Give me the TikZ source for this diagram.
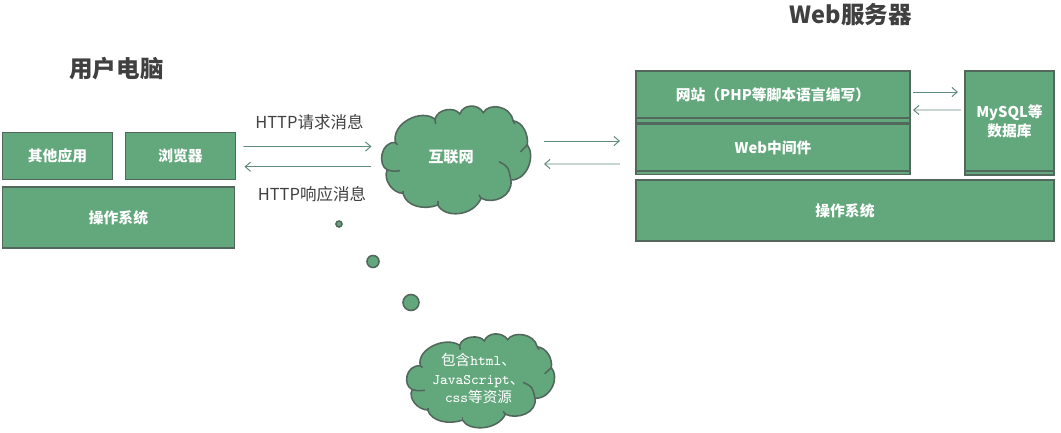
\documentclass[tikz,border=0pt]{standalone}
\usepackage{fontspec}
\usepackage{xcolor}
\usepackage{tikz}
\usetikzlibrary{arrows.meta}
\setmainfont{Noto Sans CJK SC}
\definecolor{boxgreen}{RGB}{99,168,125}
\definecolor{boxline}{RGB}{82,104,92}
\definecolor{arrowline}{RGB}{96,138,122}
\definecolor{titlegray}{RGB}{64,64,64}
\tikzset{
  box/.style={draw=boxline, fill=boxgreen, line width=0.45pt, inner sep=0pt, outer sep=0pt, text=white, font=\fontsize{4.2}{5.4}\selectfont\bfseries, align=center},
  cloudarea/.style={inner sep=0pt, outer sep=0pt},
  cloudtext/.style={text=white, align=center, inner sep=0pt},
  cloudline/.style={draw=boxline, line width=0.45pt},
  bubble/.style={draw=boxline, fill=boxgreen, line width=0.45pt, circle, inner sep=0pt, outer sep=0pt},
  flow/.style={-{Straight Barb[length=1.5pt,width=2.6pt]}, draw=arrowline, line width=0.28pt},
  title/.style={text=titlegray, font=\fontsize{6.7}{8}\selectfont\bfseries},
  caption/.style={text=titlegray, font=\fontsize{4.7}{6}\selectfont}
}
% Cloud outline in a box from -1 to 1: centre, half width, half height
\newcommand{\cloudoutline}[3]{
\begin{scope}[shift={#1}, xscale=#2, yscale=#3]
\fill[boxgreen, cloudline] (-.82,.31) .. controls (-.875,.67) and (-.47,.94) .. (-.29,.74)
  .. controls (-.25,.94) and (-.02,.97) .. (.045,.835)
  .. controls (.09,1.02) and (.29,1.03) .. (.36,.86)
  .. controls (.43,1.04) and (.72,1.0) .. (.76,.71)
  .. controls (.89,.69) and (.97,.45) .. (.95,.27)
  .. controls (1.06,.08) and (.96,-.376) .. (.73,-.376)
  .. controls (.76,-.68) and (.49,-.83) .. (.33,-.71)
  .. controls (.225,-1.05) and (-.16,-1.08) .. (-.25,-.835)
  .. controls (-.43,-.93) and (-.67,-.87) .. (-.72,-.62)
  .. controls (-.85,-.62) and (-.99,-.38) .. (-.93,-.19)
  .. controls (-1.06,-.1) and (-1.02,.33) .. (-.82,.31) -- cycle;
\draw[cloudline] (-.82,.31) -- (-.79,.27);
\draw[cloudline] (-.29,.74) -- (-.28,.65);
\draw[cloudline] (.76,.71) -- (.785,.65);
\draw[cloudline] (.95,.27) -- (.86,.14);
\draw[cloudline] (.73,-.376) .. controls (.695,-.13) .. (.57,-.04);
\draw[cloudline] (.33,-.71) -- (.30,-.65);
\draw[cloudline] (-.25,-.835) -- (-.25,-.77);
\draw[cloudline] (-.72,-.62) -- (-.72,-.57);
\draw[cloudline] (-.93,-.19) .. controls (-.85,-.22) .. (-.76,-.205);
\end{scope}
}
\begin{document}
\begin{tikzpicture}
\useasboundingbox (0,0) rectangle (10.61,4.32);

% User computer
\node[title] (usertitle) at (1.165,3.63) {用户电脑};
\node[box, minimum width=1.10cm, minimum height=0.47cm] (apps) at (0.575,2.76) {其他应用};
\node[box, minimum width=1.10cm, minimum height=0.47cm] (browser) at (1.805,2.76) {浏览器};
\node[box, minimum width=2.32cm, minimum height=0.61cm] (useros) at (1.185,2.145) {操作系统};

% Web server
\node[title] (webtitle) at (8.51,4.17) {Web服务器};
\node[box, minimum width=2.74cm, minimum height=0.47cm] (site) at (7.73,3.375) {网站（PHP等脚本语言编写）};
\node[box, minimum width=2.74cm, minimum height=0.47cm] (middleware) at (7.73,2.845) {Web中间件};
\node[box, minimum width=0.89cm, minimum height=1.00cm] (database) at (10.095,3.11) {MySQL等\\数据库};
\node[box, minimum width=4.18cm, minimum height=0.61cm] (serveros) at (8.45,2.215) {操作系统};

% Strips under the server boxes
\draw[box] (site.south west) rectangle ([yshift=-0.05cm]site.south east);
\draw[box] (middleware.south west) rectangle ([yshift=-0.035cm]middleware.south east);
\draw[box] (database.south west) rectangle ([yshift=-0.04cm]database.south east);

% Clouds
\cloudoutline{(4.565,2.725)}{0.745}{0.545}
\node[cloudarea, minimum width=1.49cm, minimum height=1.09cm] (internet) at (4.565,2.725) {};
\node[cloudtext, font=\fontsize{4.3}{5.4}\selectfont\bfseries] (internetlabel) at (4.51,2.75) {互联网};
\cloudoutline{(4.81,0.515)}{0.74}{0.475}
\node[cloudtext, font=\fontsize{4.15}{5.2}\selectfont] (resources) at (4.785,0.535) {包含{\ttfamily html}、\\{\ttfamily JavaScript}、\\{\ttfamily css}等资源};
\node[bubble, minimum size=0.06cm] (bubblea) at (3.39,2.08) {};
\node[bubble, minimum size=0.12cm] (bubbleb) at (3.73,1.705) {};
\node[bubble, minimum size=0.16cm] (bubblec) at (4.11,1.295) {};

% Messages
\node[caption] (request) at (3.095,3.10) {HTTP请求消息};
\node[caption] (response) at (3.12,2.38) {HTTP响应消息};
\draw[flow] ([shift={(0.08,0.095)}]browser.east) -- ([shift={(-0.105,0.13)}]internet.west);
\draw[flow] ([shift={(-0.105,-0.072)}]internet.west) -- ([shift={(0.09,-0.107)}]browser.east);
\draw[flow] ([shift={(0.13,0.185)}]internet.east) -- ([shift={(-0.16,0.065)}]middleware.west);
\draw[flow] ([shift={(-0.16,-0.165)}]middleware.west) -- ([shift={(0.13,-0.045)}]internet.east);
\draw[flow] ([shift={(0.03,0.025)}]site.east) -- ([shift={(-0.07,0.29)}]database.west);
\draw[flow] ([shift={(-0.04,0.11)}]database.west) -- ([shift={(0.03,-0.155)}]site.east);
\end{tikzpicture}
\end{document}
